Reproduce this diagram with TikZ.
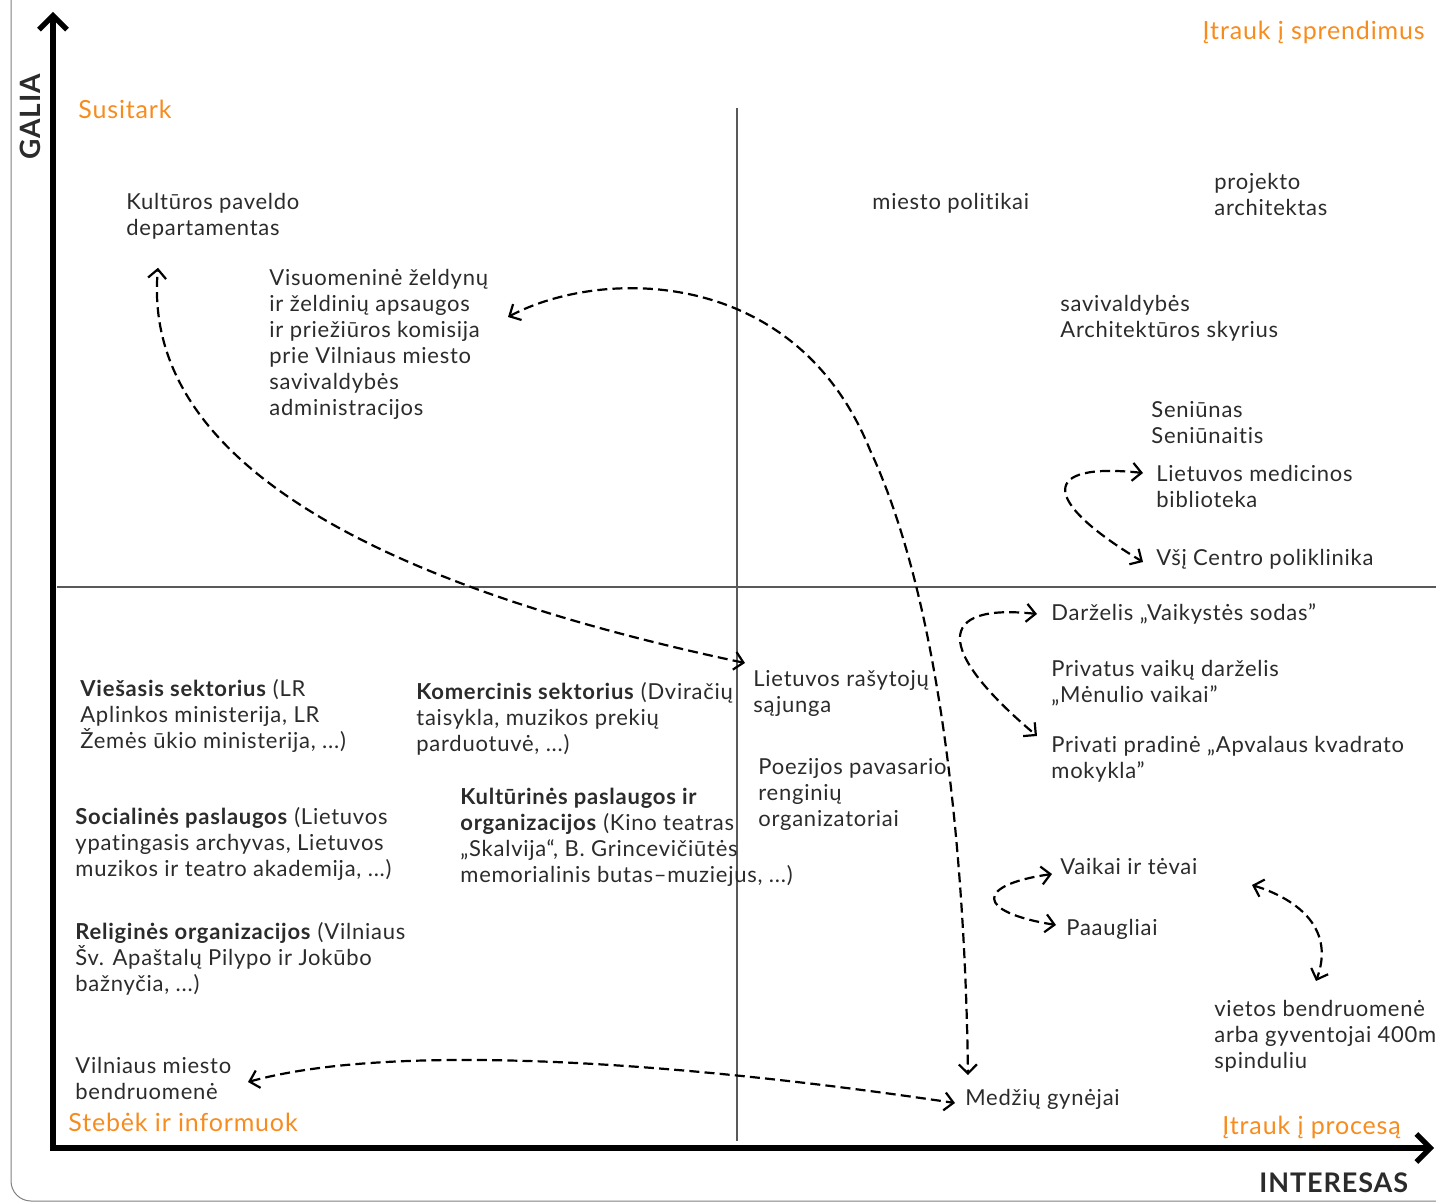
\documentclass[tikz,border=0pt]{standalone}
\usepackage{fontspec}
\setmainfont{Lato}[LetterSpace=3.4,Ligatures=NoCommon]
\usepackage{xcolor}
\usetikzlibrary{arrows.meta}
\usetikzlibrary{calc}
\definecolor{tamsi}{RGB}{43,43,43}
\definecolor{oranz}{RGB}{247,140,30}

\begin{document}
\begin{tikzpicture}[x=0.5pt,y=-0.5pt,
    every node/.style={inner sep=0pt,anchor=north west,align=left,text=tamsi,font=\fontsize{11}{13}\selectfont},
    strat/.style={anchor=base west,text=oranz,font=\fontsize{12.5}{15}\selectfont},
    asis/.style={line width=2.6pt,{Straight Barb[length=7pt,width=14pt]}-{Straight Barb[length=7pt,width=14pt]}},
    rysys/.style={line width=1.1pt,dash pattern=on 5pt off 2.6pt,{Straight Barb[length=4.5pt,width=9pt]}-{Straight Barb[length=4.5pt,width=9pt]}}]
\useasboundingbox (0,0) rectangle (1436,1203);
\draw[gray,line width=0.5pt,rounded corners=10pt] (11,-10) -- (11,1201) -- (1450,1201);
\draw[black!65,line width=0.7pt] (737,108) -- (737,1141);
\draw[black!65,line width=0.7pt] (57,587) -- (1436,587);
\draw[asis] (53,12) -- (53,1148) -- (1434,1148);
\node[anchor=center,rotate=90,font=\bfseries\fontsize{14}{16}\selectfont] (galia) at (30,117) {GALIA};
\node[anchor=base west,font=\bfseries\fontsize{13.5}{16}\selectfont] (interesas) at (1259,1192) {INTERESAS};
\node[strat] (susitark) at (78,119) {Susitark};
\node[strat,anchor=base east] (sprendimus) at (1425,40) {Įtrauk į sprendimus};
\node[strat] (stebek) at (68,1131) {Stebėk ir informuok};
\node[strat] (procesa) at (1222,1134) {Įtrauk į procesą};
\node (kult) at (126,193) {Kultūros paveldo\\departamentas};
\node (visuom) at (269,269) {Visuomeninė želdynų\\ir želdinių apsaugos\\ir priežiūros komisija\\prie Vilniaus miesto\\savivaldybės\\administracijos};
\node (politikai) at (872,193) {miesto politikai};
\node (architektas) at (1214,173) {projekto\\architektas};
\node (skyrius) at (1060,295) {savivaldybės\\Architektūros skyrius};
\node (seniunas) at (1151,401) {Seniūnas\\Seniūnaitis};
\node (medicinos) at (1156,465) {Lietuvos medicinos\\biblioteka};
\node (poliklinika) at (1156,549) {Všį Centro poliklinika};
\node (sodas) at (1051,603) {Darželis „Vaikystės sodas”};
\node (menulio) at (1051,660) {Privatus vaikų darželis\\„Mėnulio vaikai”};
\node (kvadrato) at (1051,736) {Privati pradinė „Apvalaus kvadrato\\mokykla”};
\node (tevai) at (1060,858) {Vaikai ir tėvai};
\node (paaugliai) at (1066,919) {Paaugliai};
\node (vietos) at (1214,1000) {vietos bendruomenė\\arba gyventojai 400m\\spinduliu};
\node (gynejai) at (965,1089) {Medžių gynėjai};
\node (rasytoju) at (753,670) {Lietuvos rašytojų\\sąjunga};
\node (poezijos) at (758,758) {Poezijos pavasario\\renginių\\organizatoriai};
\node (komercinis) at (416,682) {\textbf{Komercinis sektorius} (Dviračių\\taisykla, muzikos prekių\\parduotuvė, ...)};
\node (kulturines) at (460,788) {\textbf{Kultūrinės paslaugos ir}\\\textbf{organizacijos} (Kino teatras\\„Skalvija“, B. Grincevičiūtės\\memorialinis butas--muziejus, ...)};
\node (viesasis) at (80,679) {\textbf{Viešasis sektorius} (LR\\Aplinkos ministerija, LR\\Žemės ūkio ministerija, ...)};
\node (socialines) at (75,807) {\textbf{Socialinės paslaugos} (Lietuvos\\ypatingasis archyvas, Lietuvos\\muzikos ir teatro akademija, ...)};
\node (religines) at (75,922) {\textbf{Religinės organizacijos} (Vilniaus\\Šv. Apaštalų Pilypo ir Jokūbo\\bažnyčia, ...)};
\node (bendruomene) at (75,1057) {Vilniaus miesto\\bendruomenė};
\draw[rysys] ($(rasytoju.north west)+(-8,-7)$) .. controls (400,590) and (140,470) .. ($(kult.south west)+(32,28)$);
\draw[rysys] ($(visuom.north west)+(239,48)$) .. controls (600,268) and (795,265) .. (870,450) .. controls (940,600) and (965,850) .. ($(gynejai.north west)+(3,-14)$);
\draw[rysys] ($(bendruomene.north west)+(173,25)$) .. controls (400,1040) and (700,1065) .. ($(gynejai.north west)+(-10,14)$);
\draw[rysys] ($(medicinos.north west)+(-13,8)$) .. controls (1040,462) and (1040,500) .. ($(poliklinika.north west)+(-13,13)$);
\draw[rysys] ($(sodas.north west)+(-14,11)$) .. controls (935,603) and (935,650) .. ($(kvadrato.north west)+(-14,0)$);
\draw[rysys] ($(tevai.north west)+(-8,16)$) .. controls (975,885) and (975,912) .. ($(paaugliai.north west)+(-10,6)$);
\draw[rysys] ($(tevai.north west)+(192,27)$) .. controls (1300,900) and (1335,930) .. ($(vietos.north west)+(102,-19)$);
\end{tikzpicture}
\end{document}
